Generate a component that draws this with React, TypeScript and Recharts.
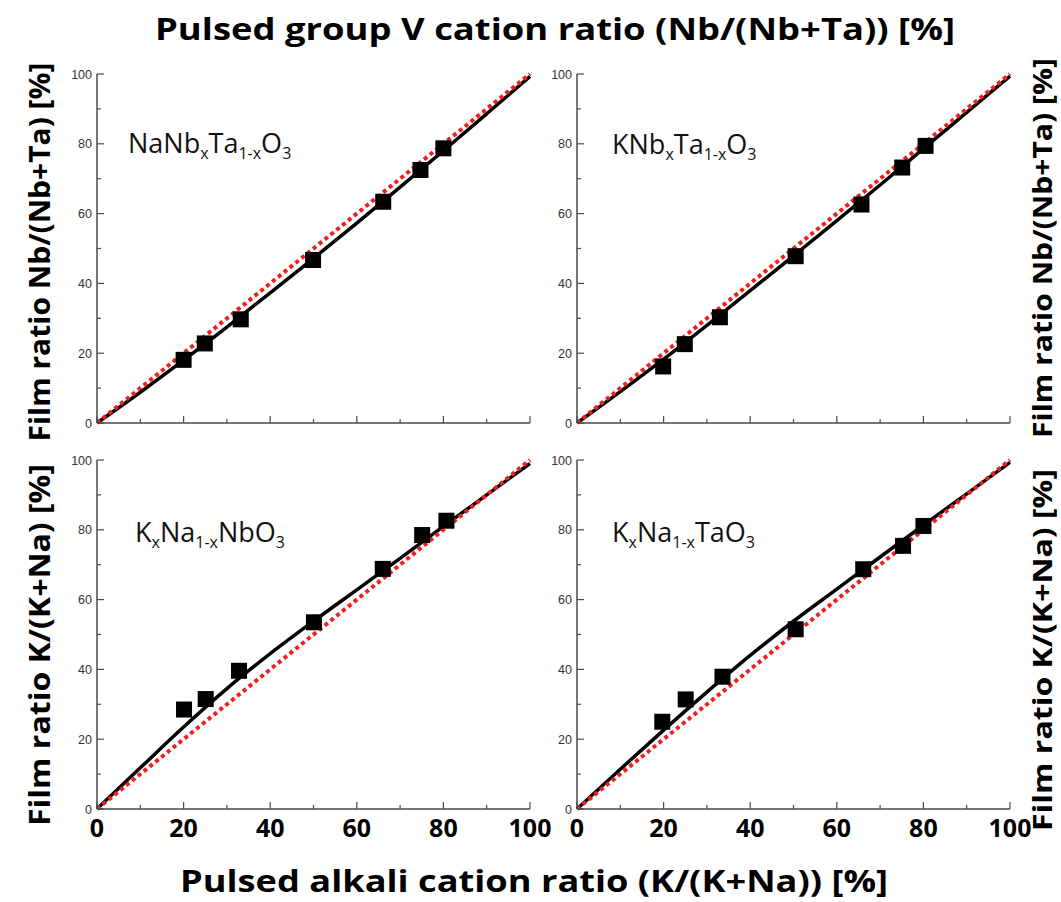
import React from "react";
import { ComposedChart, Line, Scatter, XAxis, YAxis } from "recharts";

// ---------- data ----------
const axisTicks = [0, 10, 20, 30, 40, 50, 60, 70, 80, 90, 100];
const fitX = [0, 10, 20, 30, 40, 50, 60, 70, 80, 90, 100];
const idealX = [0, 100];
const idealY = [0, 100];

const naNbTaX = [20, 24.9, 33.2, 49.9, 66.1, 74.7, 80];
const naNbTaY = [18.1, 22.8, 29.7, 46.7, 63.4, 72.5, 78.7];
const naNbTaFit = [0, 8.8, 18, 27.5, 37.3, 47.2, 57.3, 67.6, 78, 88.6, 99.3];

const kNbTaX = [19.9, 24.9, 33, 50.5, 65.7, 75.1, 80.5];
const kNbTaY = [16.2, 22.6, 30.3, 47.8, 62.6, 73.2, 79.4];
const kNbTaFit = [0, 9, 18.3, 28, 37.9, 47.9, 58, 68.2, 78.6, 89, 99.4];

const kNaNbX = [20.1, 25.1, 32.8, 50.1, 66, 75.1, 80.7];
const kNaNbY = [28.5, 31.5, 39.6, 53.5, 68.8, 78.5, 82.6];
const kNaNbFit = [0, 11.8, 23.5, 34.5, 44.5, 53.8, 62.8, 71.8, 81, 90, 99];

const kNaTaX = [19.7, 25.1, 33.6, 50.5, 66.1, 75.3, 80];
const kNaTaY = [25, 31.4, 37.9, 51.5, 68.7, 75.4, 81.1];
const kNaTaFit = [0, 11.4, 22.6, 33.5, 44, 53.8, 63, 72.2, 81.3, 90.3, 99.3];

const zip = (xs: number[], ys: number[]) => xs.map((x, i) => ({ x, y: ys[i] }));

// ---------- layout ----------
const PW = 433;
const PH = 349;
const ML = 50;
const MR = 25;
const MT = 10;
const XH = 40;

const FRAME = "#4a4a4a";
const SANS = "'Open Sans', 'Noto Sans', sans-serif";

const BottomTick = (props: any) => {
  const { x, y, payload, showLabel } = props;
  const v = payload.value;
  const major = v % 20 === 0;
  const len = major ? 7 : 4;
  return (
    <g>
      <line x1={x} x2={x} y1={y} y2={y - len} stroke={FRAME} strokeWidth={1.2} />
      {showLabel && major ? (
        <text x={x} y={y + 28} textAnchor="middle" fontFamily={SANS} fontWeight={700} fontSize={25} fill="#000">
          {v}
        </text>
      ) : null}
    </g>
  );
};

const TopTick = (props: any) => {
  const { x, y, payload } = props;
  const len = payload.value % 20 === 0 ? 7 : 4;
  return <line x1={x} x2={x} y1={y} y2={y + len} stroke={FRAME} strokeWidth={1.2} />;
};

const LeftTick = (props: any) => {
  const { x, y, payload } = props;
  const v = payload.value;
  const major = v % 20 === 0;
  const len = major ? 7 : 4;
  return (
    <g>
      <line x1={x} x2={x + len} y1={y} y2={y} stroke={FRAME} strokeWidth={1.2} />
      {major ? (
        <text x={x - 5} y={y} dy="0.36em" textAnchor="end" fontFamily="'Liberation Sans', Arial, sans-serif" fontSize={12.5} fill="#333">
          {v}
        </text>
      ) : null}
    </g>
  );
};

const RightTick = (props: any) => {
  const { x, y, payload } = props;
  const len = payload.value % 20 === 0 ? 7 : 4;
  return <line x1={x} x2={x - len} y1={y} y2={y} stroke={FRAME} strokeWidth={1.2} />;
};

const SquareShape = (props: any) => {
  const { cx, cy } = props;
  return <rect x={cx - 8} y={cy - 8} width={16} height={16} fill="#000" />;
};

type PanelProps = {
  left: number;
  top: number;
  points: { x: number; y: number }[];
  fit: { x: number; y: number }[];
  showX: boolean;
};

const axisLineStyle = { stroke: FRAME, strokeWidth: 1.5 };

const Panel = ({ left, top, points, fit, showX }: PanelProps) => (
  <div style={{ position: "absolute", left: left - ML, top: top - MT }}>
    <ComposedChart width={PW + ML + MR} height={PH + MT + XH} margin={{ top: MT, right: MR, bottom: 0, left: 0 }}>
      <XAxis
        xAxisId="b"
        type="number"
        dataKey="x"
        domain={[0, 100]}
        ticks={axisTicks}
        interval={0}
        tickSize={0}
        tickMargin={0}
        height={XH}
        axisLine={axisLineStyle}
        tickLine={false}
        tick={<BottomTick showLabel={showX} />}
      />
      <XAxis
        xAxisId="t"
        orientation="top"
        type="number"
        dataKey="x"
        domain={[0, 100]}
        ticks={axisTicks}
        interval={0}
        tickSize={0}
        tickMargin={0}
        height={0}
        axisLine={axisLineStyle}
        tickLine={false}
        tick={<TopTick />}
      />
      <YAxis
        yAxisId="l"
        type="number"
        dataKey="y"
        domain={[0, 100]}
        ticks={axisTicks}
        interval={0}
        tickSize={0}
        tickMargin={0}
        width={ML}
        axisLine={axisLineStyle}
        tickLine={false}
        tick={<LeftTick />}
      />
      <YAxis
        yAxisId="r"
        orientation="right"
        type="number"
        dataKey="y"
        domain={[0, 100]}
        ticks={axisTicks}
        interval={0}
        tickSize={0}
        tickMargin={0}
        width={0}
        axisLine={axisLineStyle}
        tickLine={false}
        tick={<RightTick />}
      />
      <Line
        xAxisId="b"
        yAxisId="l"
        data={fit}
        dataKey="y"
        type="monotone"
        stroke="#000"
        strokeWidth={3.5}
        dot={false}
        isAnimationActive={false}
      />
      <Scatter xAxisId="b" yAxisId="l" data={points} dataKey="y" shape={<SquareShape />} isAnimationActive={false} />
      <Line
        xAxisId="b"
        yAxisId="l"
        data={zip(idealX, idealY)}
        dataKey="y"
        type="linear"
        stroke="#f21d1d"
        strokeWidth={4}
        strokeDasharray="4 3.5"
        dot={false}
        isAnimationActive={false}
      />
    </ComposedChart>
  </div>
);

const Formula = ({ x, y, parts }: { x: number; y: number; parts: [string, boolean][] }) => {
  let prevSub = false;
  return (
    <text x={x} y={y} fontFamily={SANS} fontSize={27} fill="#111">
      {parts.map(([t, sub], i) => {
        const dy = sub && !prevSub ? 6 : !sub && prevSub ? -6 : 0;
        prevSub = sub;
        return (
          <tspan key={i} dy={dy} fontSize={sub ? 16 : 27}>
            {t}
          </tspan>
        );
      })}
    </text>
  );
};

const App = () => (
  <div style={{ position: "absolute", left: 0, top: 0, width: 1061, height: 902, background: "#fff", overflow: "hidden" }}>
    <Panel left={97} top={74} points={zip(naNbTaX, naNbTaY)} fit={zip(fitX, naNbTaFit)} showX={false} />
    <Panel left={577} top={74} points={zip(kNbTaX, kNbTaY)} fit={zip(fitX, kNbTaFit)} showX={false} />
    <Panel left={97} top={460} points={zip(kNaNbX, kNaNbY)} fit={zip(fitX, kNaNbFit)} showX={true} />
    <Panel left={577} top={460} points={zip(kNaTaX, kNaTaY)} fit={zip(fitX, kNaTaFit)} showX={true} />
    <svg width={1061} height={902} style={{ position: "absolute", left: 0, top: 0, pointerEvents: "none" }}>
      <text x={555} y={40} textAnchor="middle" fontFamily={SANS} fontWeight={700} fontSize={31} fill="#000" textLength={800} lengthAdjust="spacingAndGlyphs">
        Pulsed group V cation ratio (Nb/(Nb+Ta)) [%]
      </text>
      <text x={534} y={892} textAnchor="middle" fontFamily={SANS} fontWeight={700} fontSize={31} fill="#000" textLength={708} lengthAdjust="spacingAndGlyphs">
        Pulsed alkali cation ratio (K/(K+Na)) [%]
      </text>
      <text transform="translate(50,252) rotate(-90)" textAnchor="middle" fontFamily={SANS} fontWeight={700} fontSize={29} fill="#000" textLength={379} lengthAdjust="spacingAndGlyphs">
        Film ratio Nb/(Nb+Ta) [%]
      </text>
      <text transform="translate(1052,248) rotate(-90)" textAnchor="middle" fontFamily={SANS} fontWeight={700} fontSize={27} fill="#000" textLength={380} lengthAdjust="spacingAndGlyphs">
        Film ratio Nb/(Nb+Ta) [%]
      </text>
      <text transform="translate(50,645) rotate(-90)" textAnchor="middle" fontFamily={SANS} fontWeight={700} fontSize={29} fill="#000" textLength={362} lengthAdjust="spacingAndGlyphs">
        Film ratio K/(K+Na) [%]
      </text>
      <text transform="translate(1052,650) rotate(-90)" textAnchor="middle" fontFamily={SANS} fontWeight={700} fontSize={27} fill="#000" textLength={362} lengthAdjust="spacingAndGlyphs">
        Film ratio K/(K+Na) [%]
      </text>
      <Formula x={128} y={153} parts={[["NaNb", false], ["x", true], ["Ta", false], ["1-x", true], ["O", false], ["3", true]]} />
      <Formula x={612} y={154} parts={[["KNb", false], ["x", true], ["Ta", false], ["1-x", true], ["O", false], ["3", true]]} />
      <Formula x={135} y={542} parts={[["K", false], ["x", true], ["Na", false], ["1-x", true], ["NbO", false], ["3", true]]} />
      <Formula x={612} y={542} parts={[["K", false], ["x", true], ["Na", false], ["1-x", true], ["TaO", false], ["3", true]]} />
    </svg>
  </div>
);

export default App;
